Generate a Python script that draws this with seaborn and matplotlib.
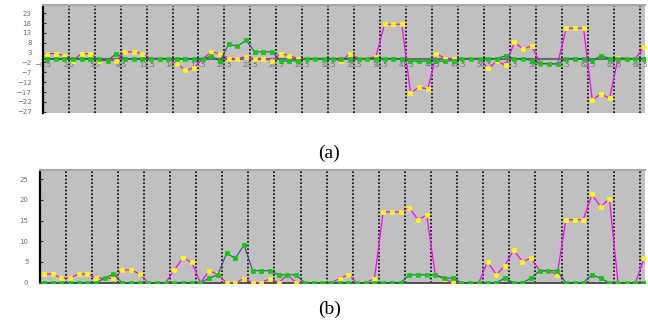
import numpy as np
import matplotlib
matplotlib.use("Agg")
import matplotlib.pyplot as plt
import seaborn as sns

# ---------------- data ----------------
x_idx = list(range(70))

# panel (a): signed values
a_magenta = [2.5, 2.5, 1.5, -1, 2.5, 2.5, -1, -1, -1, 3.4,
             3.4, 2.5, 0, 0, 0, -2.7, -5.9, -4.8, 0, 3.4,
             2.4, 0, 0, 1, 0, 0, -1, 2.5, 1.5, 0,
             0, 0, 0, 0, -1.3, 2.5, 0, 0, 1, 17.4,
             17.4, 17.4, -17.5, -14.5, -15.5, 2.5, 0, 0, 0, 0,
             0, -5, -1.3, -3.5, 8.3, 4.9, 6.4, -2.5, -2.7, -2.7,
             15.4, 15.4, 15.4, -21, -18, -20.2, 0.5, 0, 0, 6]
a_green = [0, 0, 0, 0, 0, 0, 0, -1, 2.5, 0,
           0, 0, 0, 0, 0, 0, 0, 0, 0, 1.2,
           -1.3, 7.4, 6.2, 9.3, 3.4, 3.4, 3.4, -1.3, -1.3, -1,
           0, 0, 0, 0, 0, 0, 0, 0, 0, 0,
           0, 0, -1.3, -1.3, -1.3, -1.3, -1.3, -1, 0, 0,
           0, 0, 0, 1.5, 0, 0, -1, -2.5, -2.7, -2.7,
           0, 0, 0, -1.3, 1.5, 0, 0, 0, 0, 0]

# panel (b): magnitudes
b_magenta = [2.1, 2.1, 1.1, 1.1, 2.1, 2.1, 1.1, 1.1, 1.1, 3.1,
             3.1, 2.1, 0, 0, 0, 3.1, 6.0, 4.9, 0, 2.9,
             2.0, 0, 0, 1, 0, 0, 1, 0, 1.9, 0,
             0, 0, 0, 0, 1, 1.9, 0, 0, 1, 17.1,
             17.1, 17.1, 18.1, 15.2, 16.3, 1.9, 1, 0, 0, 0,
             0, 5.1, 1.9, 4.1, 7.9, 5.1, 5.9, 2.9, 2.9, 1.9,
             15.2, 15.2, 15.2, 21.3, 18.3, 20.3, 0, 0, 0, 5.9]
b_green = [0, 0, 0, 0, 0, 0, 0, 1.1, 2.1, 0,
           0, 0, 0, 0, 0, 0, 0, 0, 0, 1.1,
           1.9, 7.1, 5.9, 9.1, 2.9, 2.9, 2.9, 1.9, 1.9, 1.9,
           0, 0, 0, 0, 0, 0, 0, 0, 0, 0,
           0, 0, 1.9, 1.9, 1.9, 1.9, 1.1, 1.1, 0, 0,
           0, 0, 0, 1.1, 0, 0, 1.1, 2.9, 2.9, 2.9,
           0, 0, 0, 1.9, 1.1, 0, 0, 0, 0, 0]

a_yticks = [-27, -22, -17, -12, -7, -2, 3, 8, 13, 18, 23]
b_yticks = [0, 5, 10, 15, 20, 25]
seg_edges = [-0.5, 2.5, 5.5, 8.5, 11.5, 14.5, 17.5, 20.5, 23.5, 26.5, 29.5, 32.5,
             35.5, 38.5, 41.5, 44.5, 47.5, 50.5, 53.5, 56.5, 59.5, 62.5, 65.5, 68.5]
seg_labels = ["\u22120.5"] + [f"{v:g}" for v in seg_edges[1:]]

# ---------------- style ----------------
MAG = "#FF00FF"
YEL = "#FFFF00"
NAVY = "#3C4A8E"
GRN = "#00D000"
BG = "#C0C0C0"
LBL = "#6A6A7E"

fig = plt.figure(figsize=(6.48, 3.22), dpi=100)
ax1 = fig.add_axes([0.0659, 0.650, 0.9295, 0.3345])
ax2 = fig.add_axes([0.0610, 0.122, 0.9344, 0.350])


def draw(ax, mag, grn):
    ax.set_facecolor(BG)
    sns.lineplot(x=x_idx, y=mag, ax=ax, color=MAG, lw=0.9, marker="s",
                 markersize=2.4, markerfacecolor=YEL, markeredgecolor=YEL,
                 markeredgewidth=0.5, zorder=3)
    sns.lineplot(x=x_idx, y=grn, ax=ax, color=NAVY, lw=0.8, marker="s",
                 markersize=2.4, markerfacecolor=GRN, markeredgecolor=GRN,
                 markeredgewidth=0.5, zorder=4)
    ax.set_xlim(-0.5, 69.1)
    ax.set_xticks(seg_edges)
    ax.grid(axis="x", color="black", linestyle=(0, (1, 1.2)), linewidth=1.2)
    ax.grid(axis="y", visible=False)
    ax.set_axisbelow(True)
    ax.set_xlabel("")
    ax.set_ylabel("")
    ax.spines["right"].set_visible(False)
    ax.spines["top"].set_color("#A8A8A8")
    ax.spines["top"].set_linewidth(1.5)
    ax.spines["left"].set_color("black")
    ax.spines["left"].set_linewidth(1.6)
    ax.tick_params(axis="y", direction="in", length=2, width=0.8,
                   color="#303030", labelsize=5, labelcolor=LBL, pad=8)


draw(ax1, a_magenta, a_green)
ax1.set_ylim(-27.5, 27.2)
ax1.set_yticks(a_yticks)
ax1.spines["bottom"].set_position(("data", 0))
ax1.spines["bottom"].set_color("#6A6A6A")
ax1.spines["bottom"].set_linewidth(1.5)
ax1.spines["bottom"].set_zorder(2)
ax1.set_xticklabels(seg_labels)
ax1.tick_params(axis="x", direction="in", length=0, labelsize=5,
                labelcolor=LBL, pad=2.5)
for t in ax1.get_xticklabels():
    t.set_zorder(6)

draw(ax2, b_magenta, b_green)
ax2.set_ylim(0, 27.2)
ax2.set_yticks(b_yticks)
ax2.spines["bottom"].set_color("#505050")
ax2.spines["bottom"].set_linewidth(1.4)
ax2.tick_params(axis="x", length=0, labelbottom=False)

fig.text(0.508, 1 - 153 / 322, "(a)", ha="center", va="center",
         fontsize=14, family="Liberation Serif")
fig.text(0.508, 1 - 309 / 322, "(b)", ha="center", va="center",
         fontsize=14, family="Liberation Serif")

fig.savefig("out.png", dpi=100)
